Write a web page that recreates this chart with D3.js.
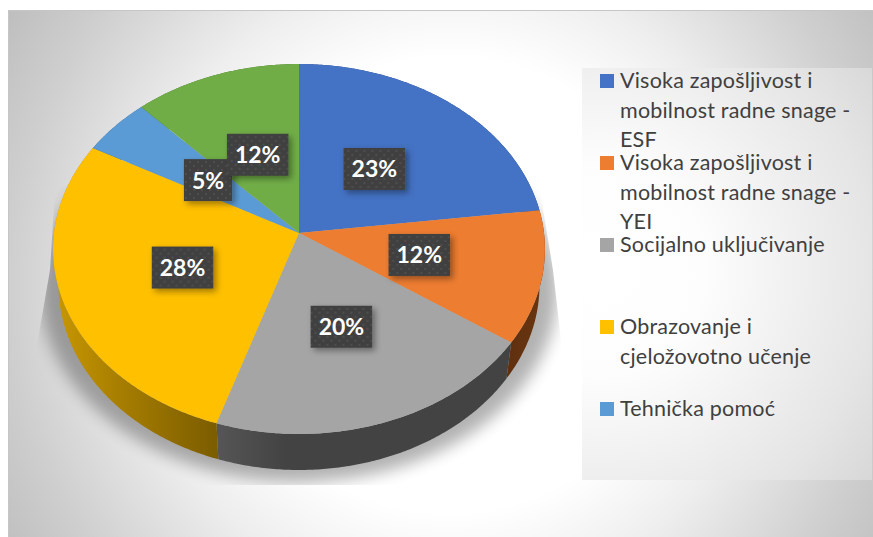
<!DOCTYPE html>
<html><head><meta charset="utf-8">
<script src="https://cdn.jsdelivr.net/npm/d3@7"></script>
<style>html,body{margin:0;padding:0;background:#fff;overflow:hidden}svg{display:block}</style>
</head><body><svg id="c" width="873" height="537"></svg>
<script>
const sliceNames = ["Visoka zapošljivost i mobilnost radne snage - ESF","Visoka zapošljivost i mobilnost radne snage - YEI","Socijalno uključivanje","Obrazovanje i cjeložovotno učenje","Tehnička pomoć",""];
const sliceValues = [23, 11.6, 20.4, 28, 5, 12];
const sliceColors = ["#4472C4","#ED7D31","#A5A5A5","#FFC000","#5B9BD5","#70AD47"];
const sideFills = ["#2a4580","url(#sideOrange)","url(#sideGray)","url(#sideYellow)","#3a6590","#466e2c"];
const legendLines = [
  ["Visoka zapošljivost i","mobilnost radne snage -","ESF"],
  ["Visoka zapošljivost i","mobilnost radne snage -","YEI"],
  ["Socijalno uključivanje"],
  ["Obrazovanje i","cjeložovotno učenje"],
  ["Tehnička pomoć"]
];
const legendColors = sliceColors.slice(0,5);

const svg = d3.select("#c");
const defs = svg.append("defs");

function radial(id,cx,cy,r,stops){
  const g = defs.append("radialGradient").attr("id",id).attr("gradientUnits","userSpaceOnUse")
    .attr("cx",cx).attr("cy",cy).attr("r",r);
  stops.forEach(s=>g.append("stop").attr("offset",s[0]).attr("stop-color",s[1]));
}
function linear(id,x1,y1,x2,y2,stops){
  const g = defs.append("linearGradient").attr("id",id).attr("gradientUnits","userSpaceOnUse")
    .attr("x1",x1).attr("y1",y1).attr("x2",x2).attr("y2",y2);
  stops.forEach(s=>g.append("stop").attr("offset",s[0]).attr("stop-color",s[1]));
}
radial("bg",450,285,530,[[0,"#fff"],[.43,"#fff"],[.6,"#eeeeee"],[.83,"#cfcfcf"],[1,"#bcbcbc"]]);
radial("lg",600,270,350,[[0,"#fff"],[.3,"#fdfdfd"],[.78,"#e5e5e5"],[1,"#d6d6d6"]]);
linear("sideYellow",57,0,219,0,[[0,"#c79600"],[.4,"#a67d00"],[1,"#7a5c00"]]);
linear("sideGray",219,0,330,0,[[0,"#555555"],[.6,"#434343"],[1,"#434343"]]);
linear("sideOrange",505,0,545,0,[[0,"#5f300f"],[1,"#6a3510"]]);

const pat = defs.append("pattern").attr("id","dots").attr("patternUnits","userSpaceOnUse").attr("width",8).attr("height",8);
pat.append("rect").attr("width",8).attr("height",8).attr("fill","#404040");
[[1,1],[5,5]].forEach(p=>pat.append("rect").attr("x",p[0]).attr("y",p[1]).attr("width",2).attr("height",2).attr("fill","#4e4e4e"));

const ds = defs.append("filter").attr("id","ds").attr("x","-20%").attr("y","-20%").attr("width","150%").attr("height","150%");
ds.append("feDropShadow").attr("dx",3).attr("dy",3).attr("stdDeviation",3).attr("flood-color","#000").attr("flood-opacity",.38);
const blur = defs.append("filter").attr("id","blur").attr("x","-20%").attr("y","-20%").attr("width","140%").attr("height","140%");
blur.append("feGaussianBlur").attr("stdDeviation",8);
defs.append("clipPath").attr("id","shadowClip").append("polygon")
  .attr("points","299,100 540,190 553,270 561,340 561,485 37,485 37,345 50,270 55,190");

// background frame
svg.append("rect").attr("x",8).attr("y",10).attr("width",865).attr("height",527).attr("fill","url(#bg)");
svg.append("path").attr("d","M8.5,537V10.5H873").attr("fill","none").attr("stroke","#c6c6c6");
svg.append("rect").attr("x",582).attr("y",68).attr("width",290).attr("height",412).attr("fill","url(#lg)");

// perspective projection of the pie disc
const cx = 299, cy = 233, R = 245, S = 183.6, k = 0.0865;
const depth = 36, lowerScale = 0.978;
const project = (a,lower)=>{
  const x = Math.sin(a), y = -Math.cos(a), w = 1 - k*y;
  const px = R*x/w, py = S*y/w;
  return lower ? [cx + px*lowerScale, cy + depth + py] : [cx + px, cy + py];
};
const path = d3.line();
const arcAngles = d => {
  const n = Math.max(4, Math.ceil((d.endAngle-d.startAngle)/0.01));
  return d3.range(n+1).map(i=>d.startAngle+(d.endAngle-d.startAngle)*i/n);
};
const pie = d3.pie().sort(null).value(d=>d)(sliceValues);
const total = d3.sum(sliceValues);

// drop shadow under the disc
const full = d3.range(0,361,2).map(a=>a*Math.PI/180);
svg.append("g").attr("clip-path","url(#shadowClip)")
  .append("path")
  .attr("d",path(full.map(a=>{const p=project(a,true);return [cx+(p[0]-cx)*1.075,cy+depth+4+(p[1]-cy-depth)*1.04];}))+"Z")
  .attr("fill","#000").attr("opacity",.3).attr("filter","url(#blur)");

// side wall
svg.append("g").selectAll("path").data(pie).join("path")
  .attr("d",d=>{const as=arcAngles(d);return path(as.map(a=>project(a,false)).concat(as.slice().reverse().map(a=>project(a,true))))+"Z";})
  .attr("fill",(d,i)=>sideFills[i]);

// top disc
svg.append("g").selectAll("path").data(pie).join("path")
  .attr("d",d=>path([[cx,cy]].concat(arcAngles(d).map(a=>project(a,false))))+"Z")
  .attr("fill",(d,i)=>sliceColors[i]);

// data labels
const fmt = d3.format(".0%");
const labels = svg.append("g").selectAll("g").data(pie).join("g")
  .attr("transform",d=>{
    const p = project((d.startAngle+d.endAngle)/2,false);
    return `translate(${cx+(p[0]-cx)*.495},${cy+(p[1]-cy)*.495})`;
  });
const box = labels.append("rect").attr("fill","url(#dots)").attr("filter","url(#ds)");
const lt = labels.append("text").text(d=>fmt(d.value/total)).attr("text-anchor","middle").attr("y",8.5)
  .attr("font-family","Lato").attr("font-weight",700).attr("font-size",23).attr("fill","#fff");
lt.each(function(d,i){
  const w = this.getComputedTextLength();
  d3.select(box.nodes()[i]).attr("x",-w/2-8).attr("width",w+16).attr("y",-21).attr("height",42);
});

// legend
const legendY = d3.scaleLinear().domain([0,1]).range([88,170]);
const lineStep = 29.5;
const items = svg.append("g").selectAll("g").data(legendLines).join("g")
  .attr("transform",(d,i)=>`translate(0,${legendY(i)})`);
items.append("rect").attr("x",600).attr("y",-14).attr("width",14).attr("height",14).attr("fill",(d,i)=>legendColors[i]);
items.selectAll("text").data(d=>d).join("text").text(d=>d)
  .attr("x",620).attr("y",(d,i)=>i*lineStep)
  .attr("font-family","Lato").attr("font-size",21.5).attr("letter-spacing",.2).attr("fill","#404040");
</script></body></html>
